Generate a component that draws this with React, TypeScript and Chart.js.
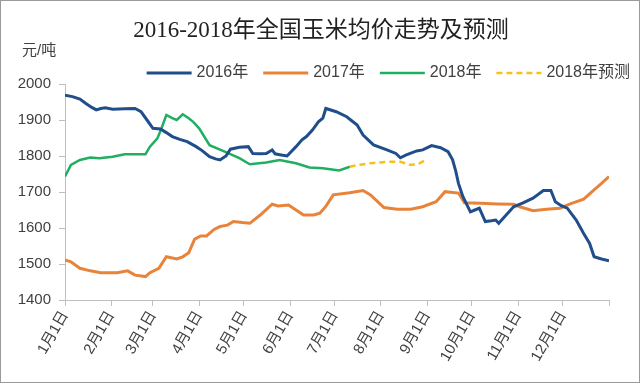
import React, { useEffect, useRef } from "react";
import { Chart, registerables } from "chart.js";

Chart.register(...registerables);

const TITLE = "2016-2018年全国玉米均价走势及预测";
const UNIT = "元/吨";

const monthTicks = [0, 31, 59, 90, 120, 151, 181, 212, 243, 273, 304, 334, 365];
const monthLabels = ["1月1日", "2月1日", "3月1日", "4月1日", "5月1日", "6月1日", "7月1日", "8月1日", "9月1日", "10月1日", "11月1日", "12月1日", ""];
const yTicks = [1400, 1500, 1600, 1700, 1800, 1900, 2000];

const days2016 = [0, 5, 10, 14, 18, 21, 24, 27, 32, 40, 47, 51, 55, 59, 64, 68, 72, 77, 82, 88, 92, 97, 101, 104, 108, 111, 117, 123, 126, 131, 135, 139, 141, 145, 149, 155, 159, 162, 166, 170, 173, 175, 182, 189, 196, 200, 207, 216, 222, 225, 229, 236, 240, 246, 252, 257, 260, 262, 264, 267, 272, 275, 278, 282, 286, 289, 291, 296, 301, 307, 314, 321, 326, 329, 333, 337, 343, 348, 352, 355, 360, 365];
const price2016 = [1969, 1965, 1958, 1946, 1935, 1928, 1932, 1934, 1930, 1931, 1932, 1923, 1900, 1877, 1875, 1865, 1854, 1846, 1840, 1826, 1815, 1798, 1792, 1789, 1800, 1819, 1824, 1826, 1807, 1806, 1807, 1817, 1806, 1803, 1800, 1826, 1845, 1854, 1872, 1895, 1905, 1932, 1923, 1909, 1886, 1858, 1831, 1817, 1807, 1795, 1803, 1814, 1817, 1829, 1823, 1812, 1790, 1761, 1724, 1687, 1645, 1650, 1655, 1618, 1620, 1622, 1613, 1636, 1659, 1669, 1683, 1704, 1704, 1673, 1662, 1655, 1622, 1585, 1557, 1520, 1514, 1509];

const days2017 = [0, 4, 10, 17, 24, 35, 42, 47, 54, 57, 63, 68, 75, 79, 83, 87, 91, 95, 100, 104, 109, 113, 119, 124, 131, 139, 143, 150, 155, 160, 167, 171, 175, 180, 191, 200, 205, 214, 223, 232, 240, 249, 255, 264, 268, 279, 290, 301, 305, 314, 323, 332, 339, 348, 355, 360, 365];
const price2017 = [1511, 1506, 1488, 1481, 1476, 1476, 1481, 1469, 1465, 1476, 1488, 1520, 1514, 1520, 1531, 1569, 1578, 1578, 1596, 1604, 1608, 1618, 1615, 1613, 1636, 1666, 1661, 1664, 1650, 1636, 1636, 1641, 1660, 1692, 1698, 1704, 1692, 1657, 1652, 1652, 1659, 1673, 1701, 1697, 1670, 1669, 1667, 1666, 1659, 1648, 1652, 1655, 1667, 1680, 1706, 1724, 1743];

const days2018 = [0, 4, 10, 17, 23, 32, 40, 54, 57, 62, 65, 68, 72, 75, 79, 83, 86, 90, 97, 106, 117, 124, 135, 144, 155, 164, 173, 184, 191];
const price2018 = [1743, 1775, 1789, 1796, 1794, 1798, 1805, 1805, 1826, 1849, 1880, 1914, 1905, 1900, 1916, 1905, 1895, 1877, 1830, 1814, 1794, 1777, 1782, 1789, 1780, 1768, 1766, 1760, 1770];

const daysForecast = [191, 198, 205, 216, 225, 232, 238, 242];
const priceForecast = [1770, 1776, 1780, 1784, 1784, 1775, 1780, 1789];

const pts = (xs: number[], ys: number[]) => xs.map((x, i) => ({ x, y: ys[i] }));

const headerPlugin = {
  id: "header",
  afterDraw(chart: any) {
    const ctx = chart.ctx as CanvasRenderingContext2D;
    ctx.save();
    ctx.fillStyle = "#222";
    ctx.font = "23px 'Liberation Serif', 'Noto Sans CJK SC', serif";
    ctx.textAlign = "center";
    ctx.textBaseline = "middle";
    ctx.fillText(TITLE, 320, 30);

    ctx.font = "15px 'Liberation Sans', 'Noto Sans CJK SC', sans-serif";
    ctx.fillStyle = "#404040";
    ctx.textAlign = "left";
    ctx.fillText(UNIT, 21, 50);

    ctx.font = "16px 'Liberation Sans', 'Noto Sans CJK SC', sans-serif";
    const items = chart.data.datasets.map((ds: any) => ({
      label: ds.label,
      color: ds.borderColor,
      dash: ds.borderDash || [],
      width: ds.borderWidth,
      tw: ctx.measureText(ds.label).width,
    }));
    const sw = 45, gap = 5, sep = 15;
    const total = items.reduce((a: number, it: any) => a + sw + gap + it.tw, 0) + sep * (items.length - 1);
    let x = 629 - total;
    const y = 72;
    for (const it of items) {
      ctx.beginPath();
      ctx.strokeStyle = it.color;
      ctx.lineWidth = it.width;
      ctx.setLineDash(it.dash);
      ctx.moveTo(x, y);
      ctx.lineTo(x + sw, y);
      ctx.stroke();
      ctx.setLineDash([]);
      ctx.fillStyle = "#404040";
      ctx.fillText(it.label, x + sw + gap, y);
      x += sw + gap + it.tw + sep;
    }
    ctx.restore();
  },
};

export default function App() {
  const ref = useRef<HTMLCanvasElement>(null);
  useEffect(() => {
    if (!ref.current) return;
    const tickFont = { family: "'Liberation Sans', 'Noto Sans CJK SC', sans-serif", size: 15 };
    const chart = new Chart(ref.current, {
      type: "line",
      data: {
        datasets: [
          { label: "2016年", data: pts(days2016, price2016), borderColor: "#1f4e8a", borderWidth: 3, pointRadius: 0, tension: 0 },
          { label: "2017年", data: pts(days2017, price2017), borderColor: "#e8833a", borderWidth: 3, pointRadius: 0, tension: 0 },
          { label: "2018年", data: pts(days2018, price2018), borderColor: "#1fae62", borderWidth: 2.5, pointRadius: 0, tension: 0 },
          { label: "2018年预测", data: pts(daysForecast, priceForecast), borderColor: "#f5c21b", borderWidth: 2.5, borderDash: [6, 4], pointRadius: 0, tension: 0 },
        ],
      },
      options: {
        animation: false,
        responsive: false,
        layout: { padding: { left: 12, right: 30, top: 83, bottom: 12 } },
        plugins: { legend: { display: false }, tooltip: { enabled: false }, title: { display: false } },
        scales: {
          x: {
            type: "linear",
            min: 0,
            max: 365,
            afterBuildTicks: (s: any) => { s.ticks = monthTicks.map((v) => ({ value: v })); },
            afterFit: (s: any) => { s.height = 70; },
            ticks: {
              autoSkip: false,
              minRotation: 60,
              maxRotation: 60,
              padding: 2,
              color: "#404040",
              font: tickFont,
              callback: (_v: any, i: number) => monthLabels[i] ?? "",
            },
            grid: { display: true, drawOnChartArea: false, tickLength: 6, color: "#bfbfbf" },
            border: { color: "#bfbfbf" },
          },
          y: {
            min: 1400,
            max: 2000,
            afterBuildTicks: (s: any) => { s.ticks = yTicks.map((v) => ({ value: v })); },
            afterFit: (s: any) => { s.width = 52; },
            ticks: { padding: 8, color: "#404040", font: tickFont, callback: (v: any) => String(v) },
            grid: { display: true, drawOnChartArea: false, tickLength: 6, color: "#bfbfbf" },
            border: { color: "#bfbfbf" },
          },
        },
      },
      plugins: [headerPlugin],
    } as any);
    return () => chart.destroy();
  }, []);
  return (
    <div style={{ position: "absolute", left: 0, top: 0, width: 640, height: 383, boxSizing: "border-box", border: "1px solid #9a9a9a", background: "#fff" }}>
      <canvas ref={ref} width={638} height={381} style={{ display: "block" }} />
    </div>
  );
}
